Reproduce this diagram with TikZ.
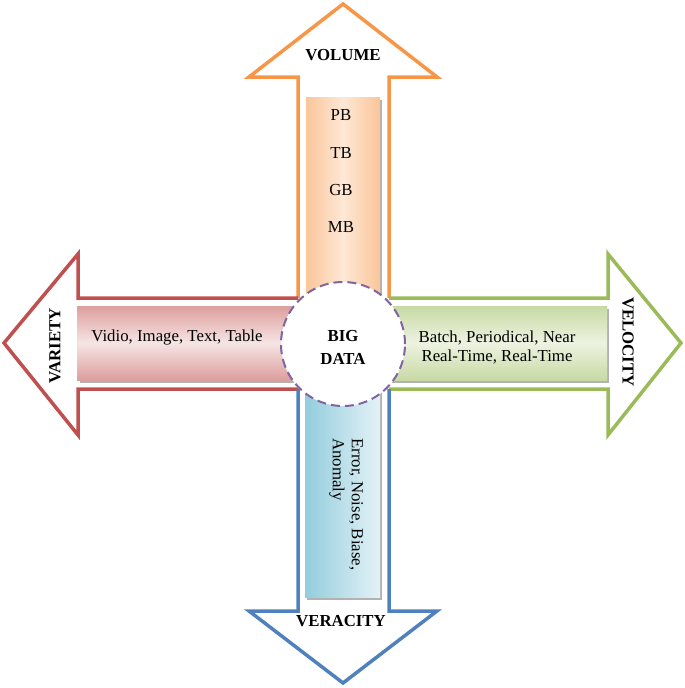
\documentclass[tikz,border=0pt]{standalone}
\usepackage{fontspec}
\setmainfont{Liberation Serif}
\definecolor{cOrange}{HTML}{F79646}
\definecolor{cRed}{HTML}{C0504D}
\definecolor{cGreen}{HTML}{9BBB59}
\definecolor{cBlue}{HTML}{4F81BD}
\definecolor{cPurple}{HTML}{8064A2}
\definecolor{cAquaD}{HTML}{93CDDD}
\definecolor{cAquaL}{HTML}{E3F2F6}
\begin{document}
\begin{tikzpicture}[x=1pt,y=-1pt,
  arrowline/.style={line width=3.5pt,miter limit=10,line join=miter},
  shadowbox/.style={fill=black!30,draw=none},
  lbl/.style={font=\fontsize{16.8}{19}\selectfont,inner sep=0pt},
  blbl/.style={font=\fontsize{16.8}{19}\selectfont\bfseries,inner sep=0pt}]
\useasboundingbox (0,0) rectangle (685,688);
% arrows
\draw[arrowline,cOrange] (298,298) -- (298,77) -- (249,77) -- (343,4) -- (437,77) -- (389,77) -- (389,298);
\draw[arrowline,cRed] (298,298) -- (78,298) -- (78,254) -- (4,343) -- (78,435) -- (78,389) -- (298,389);
\draw[arrowline,cGreen] (389,298) -- (608,298) -- (608,254) -- (681,343) -- (608,435) -- (608,389) -- (389,389);
\draw[arrowline,cBlue] (298,389) -- (298,611) -- (249,611) -- (343,683) -- (437,611) -- (389,611) -- (389,389);
% shadows
\fill[shadowbox] (309,100) rectangle (382,330);
\fill[shadowbox] (80,309) rectangle (332,383);
\fill[shadowbox] (362,309) rectangle (609,383);
\fill[shadowbox] (307,362) rectangle (382,600);
% boxes
\shade[left color=cOrange!55,right color=cOrange!55,middle color=cOrange!22] (306,97) rectangle (380,330);
\shade[top color=cRed!55,bottom color=cRed!55,middle color=cRed!15] (77,306) rectangle (330,380);
\shade[top color=cGreen!55,bottom color=cGreen!55,middle color=cGreen!18] (360,306) rectangle (607,380);
\shade[left color=cAquaD,right color=cAquaL,middle color=cAquaD!50!cAquaL] (305,360) rectangle (380,597);
% circle
\node[circle,minimum size=124pt,fill=white,draw=cPurple,line width=2pt,dash pattern=on 9pt off 5pt,inner sep=0pt] (center) at (343,344) {};
\node[blbl,align=center] (bigdata) at (343,347) {BIG\\[4pt]DATA};
% labels
\node[blbl] (volume) at (343,55) {VOLUME};
\node[blbl,rotate=90] (variety) at (55,346) {VARIETY};
\node[blbl,rotate=-90] (velocity) at (628,342) {VELOCITY};
\node[blbl] (veracity) at (341,621) {VERACITY};
% contents
\node[lbl] (pb) at (341,115) {PB};
\node[lbl] (tb) at (341,153) {TB};
\node[lbl] (gb) at (341,190) {GB};
\node[lbl] (mb) at (341,227) {MB};
\node[lbl] (variety-t) at (177,337) {Vidio, Image, Text, Table};
\node[lbl,align=center] (velocity-t) at (497,347) {Batch, Periodical, Near\\Real-Time, Real-Time};
\node[lbl,align=left,rotate=-90,anchor=west] (veracity-t) at (346,438) {Error, Noise, Biase,\\Anomaly};
\end{tikzpicture}
\end{document}
